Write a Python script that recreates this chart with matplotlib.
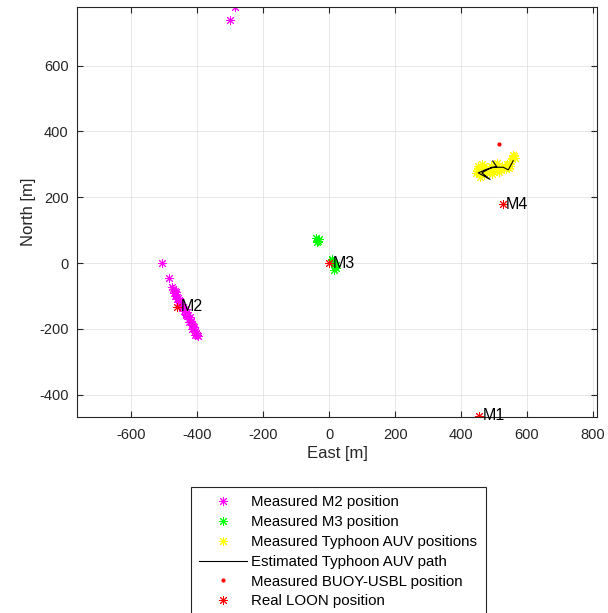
import matplotlib
matplotlib.use("Agg")
import matplotlib.pyplot as plt

plt.rcParams['font.family'] = ['Liberation Sans', 'DejaVu Sans']
plt.rcParams['axes.unicode_minus'] = False

# Measured positions of transponder M2 (east, north) [m]
m2_east = [-507, -484, -475, -472, -470, -468, -466, -463, -460, -458, -455, -452,
           -450, -448, -445, -442, -440, -437, -435, -432, -430, -428, -425, -422,
           -420, -418, -415, -412, -410, -408, -405, -402, -400, -398, -465, -455,
           -445, -435, -425, -415, -405, -300, -284]
m2_north = [0, -45, -72, -80, -90, -85, -100, -95, -110, -105, -120, -115,
            -128, -125, -135, -133, -145, -140, -155, -150, -162, -158, -170, -165,
            -180, -176, -188, -192, -200, -195, -208, -212, -218, -222, -88, -112,
            -136, -158, -178, -200, -220, 739, 778]

# Measured positions of transponder M3
m3_east = [-40, -35, -32, -38, 8, 12, 15, 18, 20, 14, 10, 22, 16]
m3_north = [75, 68, 72, 65, 12, 5, -2, -8, -15, 0, 8, -5, -20]

# Measured Typhoon AUV positions
auv_east = [445, 450, 455, 460, 448, 465, 470, 458, 452, 462, 475, 470,
            480, 490, 500, 510, 520, 530, 485, 495, 505, 515, 525, 535, 540,
            545, 550, 553, 558, 548, 555, 560, 545, 540, 562, 500, 510, 490]
auv_north = [275, 285, 270, 290, 280, 278, 268, 262, 295, 300, 285, 295,
             275, 280, 278, 285, 282, 288, 290, 272, 292, 278, 295, 285, 292,
             300, 310, 320, 328, 295, 315, 325, 290, 300, 318, 300, 305, 295]

# Estimated Typhoon AUV path
path_east = [496, 508, 478, 452, 488, 463, 493, 528, 543, 554, 558]
path_north = [310, 293, 285, 274, 254, 274, 291, 291, 283, 303, 311]

# Measured BUOY-USBL position
buoy_east = [516]
buoy_north = [362]

# Real LOON positions with names
loon_names = ['M1', 'M2', 'M3', 'M4']
loon_east = [455, -460, 0, 526]
loon_north = [-464, -133, -1, 179]

W, H = 608, 613
fig = plt.figure(figsize=(W / 100, H / 100), dpi=100)
ax = fig.add_axes([77 / W, 1 - 417 / H, 520 / W, 410 / H])

star = (8, 2, 0)
ms = 6.5
mew = 0.7

ax.plot(m2_east, m2_north, ls='none', marker=star, ms=ms, mew=mew,
        color='#FF00FF', label='Measured M2 position')
ax.plot(m3_east, m3_north, ls='none', marker=star, ms=ms, mew=mew,
        color='#00FF00', label='Measured M3 position')
ax.plot(auv_east, auv_north, ls='none', marker=star, ms=ms, mew=mew,
        color='#FFFF00', label='Measured Typhoon AUV positions')
ax.plot(path_east, path_north, color='black', lw=0.8,
        label='Estimated Typhoon AUV path')
ax.plot(buoy_east, buoy_north, ls='none', marker='.', ms=4,
        color='#FF0000', label='Measured BUOY-USBL position')
ax.plot(loon_east, loon_north, ls='none', marker=star, ms=ms, mew=mew,
        color='#FF0000', label='Real LOON position')

for name, e, n in zip(loon_names, loon_east, loon_north):
    ax.text(e + 10, n, name, fontsize=11.5, va='center', ha='left', color='black')

ax.set_xlim(-764, 812)
ax.set_ylim(-468, 778)
ax.set_xticks([-600, -400, -200, 0, 200, 400, 600, 800])
ax.set_yticks([-400, -200, 0, 200, 400, 600])
ax.grid(True, color='#e3e3e3', lw=0.6)
ax.set_axisbelow(True)

edge = '#262626'
for s in ax.spines.values():
    s.set_color(edge)
    s.set_linewidth(0.8)
ax.tick_params(direction='in', length=4, width=0.8, colors=edge,
               labelsize=10.5, top=True, right=True)
ax.tick_params(axis='x', pad=8)
ax.tick_params(axis='y', pad=6)
ax.set_xlabel('East [m]', fontsize=12, color=edge, labelpad=3)
ax.set_ylabel('North [m]', fontsize=12, color=edge, labelpad=2)

leg = fig.legend(handles=ax.get_lines(), loc='upper center',
                 bbox_to_anchor=(338 / W, 1 - 487 / H), borderaxespad=0,
                 fontsize=10.8, handlelength=3.2, labelspacing=0.39,
                 handletextpad=0.3, borderpad=0.55, fancybox=False,
                 framealpha=1, numpoints=1)
leg.get_frame().set_edgecolor(edge)
leg.get_frame().set_linewidth(0.8)

fig.savefig('out.png', dpi=100)
